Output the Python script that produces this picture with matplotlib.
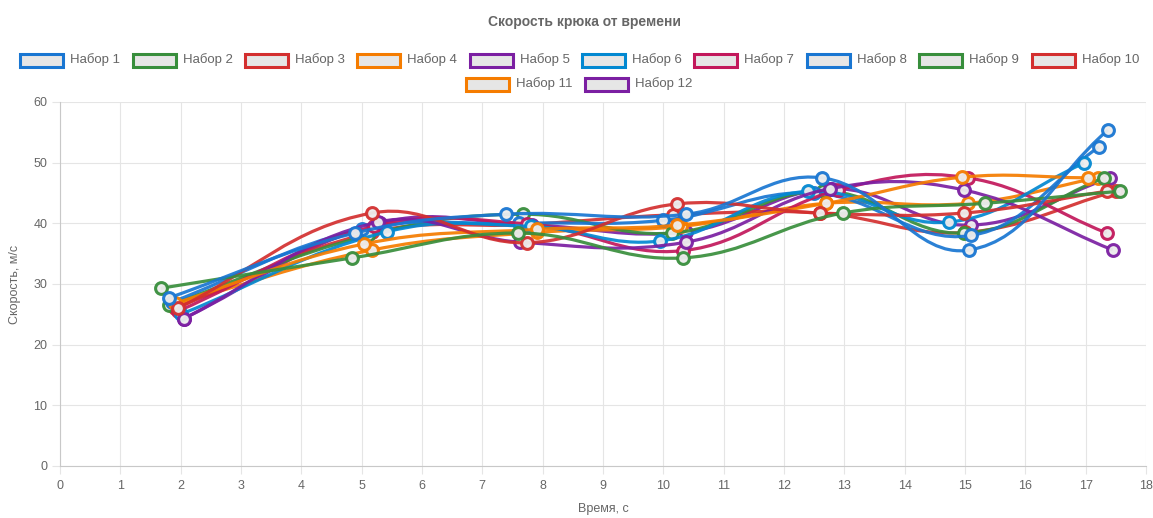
import matplotlib
matplotlib.use("Agg")
import matplotlib.pyplot as plt
from matplotlib.path import Path
from matplotlib.patches import PathPatch, Rectangle
import numpy as np

plt.rcParams["font.family"] = ["Liberation Sans", "DejaVu Sans"]

# ---- data -------------------------------------------------------------
labels = [f"Набор {i}" for i in range(1, 13)]
colors = ["#1976D2", "#388E3C", "#D32F2F", "#F57C00", "#7B1FA2", "#0288D1",
          "#C2185B", "#1976D2", "#388E3C", "#D32F2F", "#F57C00", "#7B1FA2"]

times = [
    [1.80, 4.89, 7.39, 10.38, 12.63, 15.07, 17.37],
    [1.67, 4.84, 7.59, 10.33, 12.98, 15.33, 17.57],
    [1.95, 5.17, 7.74, 10.23, 12.60, 14.98, 17.35],
    [1.90, 5.04, 7.90, 10.23, 12.70, 14.95, 17.04],
    [2.05, 5.27, 7.62, 10.38, 12.76, 14.98, 17.45],
    [2.00, 5.42, 7.80, 9.95, 12.40, 14.73, 16.97],
    [1.95, 5.20, 7.74, 10.33, 12.90, 15.05, 17.35],
    [1.85, 5.00, 7.60, 10.00, 12.50, 15.10, 17.22],
    [1.80, 5.10, 7.67, 10.14, 12.65, 14.98, 17.30],
    [1.90, 5.17, 7.74, 10.16, 12.60, 15.00, 17.50],
    [1.85, 5.17, 7.90, 10.30, 12.70, 15.05, 17.20],
    [2.05, 5.30, 7.82, 10.38, 12.80, 15.10, 17.40],
]
speeds = [
    [27.7, 38.4, 41.5, 41.5, 47.5, 35.6, 55.4],
    [29.3, 34.3, 38.4, 34.3, 41.7, 43.3, 45.3],
    [26.0, 41.7, 36.8, 43.2, 41.7, 41.7, 45.3],
    [26.8, 36.6, 39.0, 39.7, 43.3, 47.6, 47.5],
    [24.3, 40.2, 36.9, 36.9, 45.7, 45.5, 35.6],
    [25.0, 38.6, 39.5, 37.1, 45.3, 40.2, 49.9],
    [25.5, 39.5, 39.9, 35.5, 45.5, 47.5, 38.4],
    [27.0, 39.0, 40.0, 40.5, 45.0, 38.0, 52.6],
    [26.5, 38.0, 41.5, 38.4, 45.3, 38.4, 47.5],
    [26.0, 38.5, 39.8, 41.4, 41.7, 38.5, 45.3],
    [26.5, 35.6, 38.5, 39.5, 43.3, 43.3, 47.5],
    [24.3, 40.0, 39.7, 38.6, 45.7, 39.7, 47.5],
]

title = "Скорость крюка от времени"
xlabel = "Время, с"
ylabel = "Скорость, м/с"

# ---- figure layout (pixels) --------------------------------------------
W, H = 1153, 518
L, R, T, B = 60, 1146, 102, 466
XMAX, YMAX = 18, 60
fig = plt.figure(figsize=(W / 100, H / 100), dpi=100)
ax = fig.add_axes([L / W, 1 - B / H, (R - L) / W, (B - T) / H])
ax.set_xlim(0, XMAX)
ax.set_ylim(0, YMAX)

txt = "#666666"
grid_c = "#e5e5e5"
fs_tick = 9
fs_leg = 9.5
fs_title = 10

ax.set_xticks(range(0, 19))
ax.set_yticks(range(0, 61, 10))
ax.grid(True, color=grid_c, lw=0.8)
ax.set_axisbelow(True)
for s in ["top", "right"]:
    ax.spines[s].set_visible(False)
for s in ["left", "bottom"]:
    ax.spines[s].set_color("#c8c8c8")
    ax.spines[s].set_linewidth(0.8)
ax.tick_params(axis="x", length=6, width=0.8, color=grid_c, labelcolor=txt,
               labelsize=fs_tick, pad=4)
ax.tick_params(axis="y", length=6, width=0.8, color=grid_c, labelcolor=txt,
               labelsize=fs_tick, pad=3)

# pixels per data unit (for tension-based smoothing in screen space)
sx = (R - L) / XMAX
sy = (B - T) / YMAX


def smooth_path(xs, ys, tension=0.4):
    px = np.asarray(xs) * sx
    py = np.asarray(ys) * sy
    n = len(px)
    cps = []
    for i in range(n):
        pp = (px[max(i - 1, 0)], py[max(i - 1, 0)])
        cur = (px[i], py[i])
        nx = (px[min(i + 1, n - 1)], py[min(i + 1, n - 1)])
        d01 = np.hypot(cur[0] - pp[0], cur[1] - pp[1])
        d12 = np.hypot(nx[0] - cur[0], nx[1] - cur[1])
        tot = d01 + d12
        s01 = d01 / tot if tot else 0
        s12 = d12 / tot if tot else 0
        fa, fb = tension * s01, tension * s12
        cp_prev = (cur[0] - fa * (nx[0] - pp[0]), cur[1] - fa * (nx[1] - pp[1]))
        cp_next = (cur[0] + fb * (nx[0] - pp[0]), cur[1] + fb * (nx[1] - pp[1]))
        cps.append((cp_prev, cp_next))
    verts = [(px[0] / sx, py[0] / sy)]
    codes = [Path.MOVETO]
    for i in range(1, n):
        c1 = cps[i - 1][1]
        c2 = cps[i][0]
        verts += [(c1[0] / sx, c1[1] / sy), (c2[0] / sx, c2[1] / sy),
                  (px[i] / sx, py[i] / sy)]
        codes += [Path.CURVE4] * 3
    return Path(verts, codes)


for i in range(len(labels)):
    z = 10 + (len(labels) - i)
    patch = PathPatch(smooth_path(times[i], speeds[i]), facecolor="none",
                      edgecolor=colors[i], lw=2.3, zorder=z, alpha=0.92)
    ax.add_patch(patch)
    ax.plot(times[i], speeds[i], ls="none", marker="o", ms=8.5,
            mfc=(0.93, 0.93, 0.93, 0.6), mec=colors[i], mew=2.2,
            zorder=z + 0.5, clip_on=False, alpha=0.95)

# ---- texts -------------------------------------------------------------
fig.text(585 / W, 1 - 22 / H, title, ha="center", va="center",
         fontsize=fs_title, fontweight="bold", color=txt)
fig.text((L + R) / 2 / W, 1 - 509 / H, xlabel, ha="center", va="center",
         fontsize=fs_tick, color=txt)
fig.text(15 / W, 1 - 284 / H, ylabel, ha="center", va="center",
         rotation=90, fontsize=fs_tick, color=txt)

# ---- legend ------------------------------------------------------------
renderer = fig.canvas.get_renderer()
box_w, box_h, gap_txt, gap_item = 43, 13, 7, 12.5
widths = []
for lab in labels:
    t = fig.text(0, 0, lab, fontsize=fs_leg)
    widths.append(t.get_window_extent(renderer).width)
    t.remove()

rows = [list(range(0, 10)), list(range(10, 12))]
row_y = [60, 84]
for row, yc in zip(rows, row_y):
    total = sum(box_w + gap_txt + widths[k] for k in row) + gap_item * (len(row) - 1)
    x = W / 2 + 3 - total / 2
    for k in row:
        rect = Rectangle((x / W, 1 - (yc + box_h / 2) / H), box_w / W, box_h / H,
                         transform=fig.transFigure, facecolor="#e6e6e6",
                         edgecolor=colors[k], lw=2.2)
        fig.add_artist(rect)
        fig.text((x + box_w + gap_txt) / W, 1 - yc / H, labels[k],
                 ha="left", va="center", fontsize=fs_leg, color=txt)
        x += box_w + gap_txt + widths[k] + gap_item

fig.savefig("out.png", dpi=100)
